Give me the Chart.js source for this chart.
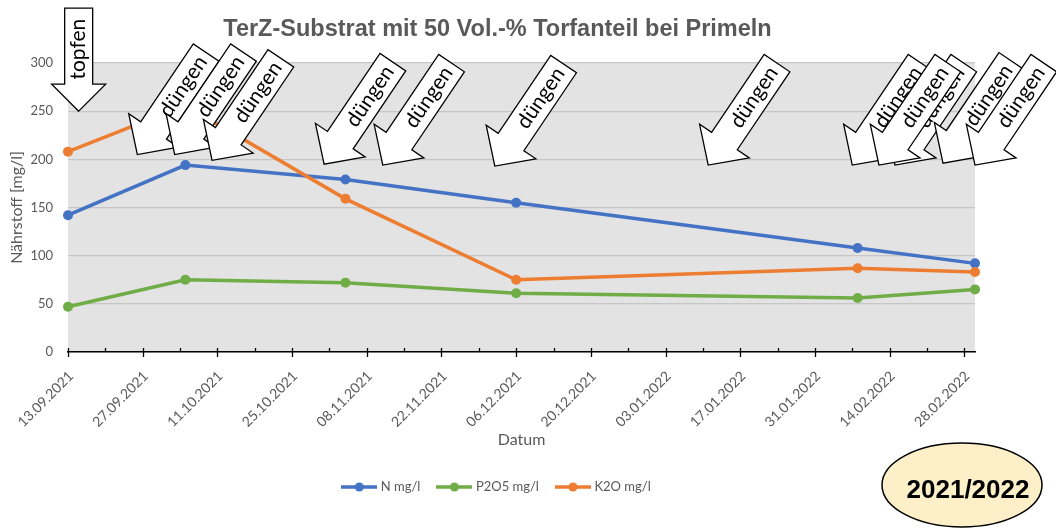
<!DOCTYPE html>
<html>
<head>
<meta charset="utf-8">
<script src="https://cdn.jsdelivr.net/npm/chart.js@4.4.1/dist/chart.umd.min.js"></script>
<style>
  html, body { margin: 0; padding: 0; background: #fff; }
  #wrap { width: 1056px; height: 529px; }
</style>
</head>
<body>
<div id="wrap"><canvas id="chart" width="1056" height="529"></canvas></div>
<script>
// Messtermine und Nährstoffwerte
const dates = ["2021-09-13", "2021-10-05", "2021-11-04", "2021-12-06", "2022-02-08", "2022-03-02"];
const nValues = [142, 194, 179, 155, 108, 92];
const p2o5Values = [47, 75, 72, 61, 56, 65];
const k2oValues = [208, 256, 159, 75, 87, 83];
const seriesNames = ["N mg/l", "P2O5 mg/l", "K2O mg/l"];
const seriesColors = ["#4472C4", "#70AD47", "#ED7D31"];
const yTicks = [0, 50, 100, 150, 200, 250, 300];

// Pfeile: Topfen und Düngetermine (Spitze bei Datum / Wert)
const topfenDate = "2021-09-15";
const topfenLevel = 250;
const duengenDates = ["2021-09-26", "2021-10-03", "2021-10-10", "2021-10-31", "2021-11-11", "2021-12-02",
                      "2022-01-11", "2022-02-07", "2022-02-15", "2022-02-12", "2022-02-24", "2022-03-02"];
const duengenLevels = [205, 205, 199, 195, 194, 193, 194, 194, 194, 194, 196, 194];

const DAY = 86400000;
const toMs = s => Date.parse(s + "T00:00:00Z");
const pad = n => String(n).padStart(2, "0");
const fmtDate = v => {
    const d = new Date(v);
    return pad(d.getUTCDate()) + "." + pad(d.getUTCMonth() + 1) + "." + d.getUTCFullYear();
};
const xMin = toMs(dates[0]);
const xMax = toMs(dates[dates.length - 1]);
const isMajor = v => Math.round((v - xMin) / DAY) % 14 === 0;

const GRAY = "#595959";

// Legendensymbol: Linie mit Punkt
const legendIcons = seriesColors.map(c => {
    const cv = document.createElement("canvas");
    cv.width = 36; cv.height = 12;
    const g = cv.getContext("2d");
    g.strokeStyle = c; g.lineWidth = 3.5;
    g.beginPath(); g.moveTo(0, 6); g.lineTo(36, 6); g.stroke();
    g.fillStyle = c;
    g.beginPath(); g.arc(18, 6, 4.5, 0, Math.PI * 2); g.fill();
    return cv;
});

function makeSeries(values, i) {
    return {
        label: seriesNames[i],
        data: dates.map((d, k) => ({ x: toMs(d), y: values[k] })),
        borderColor: seriesColors[i],
        backgroundColor: seriesColors[i],
        borderWidth: 3.5,
        pointRadius: 5,
        pointHoverRadius: 5,
        pointBorderWidth: 0,
        pointBackgroundColor: seriesColors[i],
        tension: 0,
        clip: false,
        order: 3 - i
    };
}

// Hintergrund der Zeichenfläche
const plotBg = {
    id: "plotBg",
    beforeDraw(chart) {
        const { ctx, chartArea: a } = chart;
        ctx.save();
        ctx.fillStyle = "#e2e3e2";
        ctx.fillRect(a.left, a.top, a.right - a.left, a.bottom - a.top);
        ctx.restore();
    }
};

function drawArrow(ctx, x, y, angle, dim, text) {
    ctx.save();
    ctx.translate(x, y);
    ctx.rotate(angle);
    ctx.beginPath();
    ctx.moveTo(0, 0);
    ctx.lineTo(-dim.headW, -dim.head);
    ctx.lineTo(-dim.shaftW, -dim.head);
    ctx.lineTo(-dim.shaftW, -dim.len);
    ctx.lineTo(dim.shaftW, -dim.len);
    ctx.lineTo(dim.shaftW, -dim.head);
    ctx.lineTo(dim.headW, -dim.head);
    ctx.closePath();
    ctx.fillStyle = "#fff";
    ctx.fill();
    ctx.strokeStyle = "#000";
    ctx.lineWidth = 1.3;
    ctx.stroke();
    ctx.translate(0, -dim.textAt);
    ctx.rotate(-Math.PI / 2);
    ctx.fillStyle = "#000";
    ctx.font = "21px Lato";
    ctx.textAlign = "center";
    ctx.textBaseline = "middle";
    ctx.fillText(text, 0, 0);
    ctx.restore();
}

// Achsenstriche, Pfeile, Jahresoval
const extras = {
    id: "extras",
    afterDraw(chart) {
        const { ctx, chartArea: a, scales: { x, y } } = chart;
        ctx.save();
        ctx.strokeStyle = "#000";
        ctx.lineWidth = 1.3;
        x.ticks.forEach(t => {
            const px = Math.round(x.getPixelForValue(t.value)) + 0.5;
            ctx.beginPath();
            ctx.moveTo(px, a.bottom - 4);
            ctx.lineTo(px, isMajor(t.value) ? a.bottom + 5 : a.bottom);
            ctx.stroke();
        });
        ctx.restore();

        drawArrow(ctx, x.getPixelForValue(toMs(topfenDate)), y.getPixelForValue(topfenLevel), 0,
            { len: 103, head: 27, shaftW: 14, headW: 27, textAt: 62 }, "topfen");
        const rot = 34 * Math.PI / 180;
        duengenDates.forEach((d, i) => {
            drawArrow(ctx, x.getPixelForValue(toMs(d)), y.getPixelForValue(duengenLevels[i]), rot,
                { len: 123, head: 29, shaftW: 15.5, headW: 30, textAt: 82 }, "düngen");
        });

        ctx.save();
        ctx.beginPath();
        ctx.ellipse(962, 485, 80, 42, 0, 0, Math.PI * 2);
        ctx.fillStyle = "#fdf0c8";
        ctx.fill();
        ctx.strokeStyle = "#000";
        ctx.lineWidth = 1.5;
        ctx.stroke();
        ctx.fillStyle = "#000";
        ctx.font = "bold 26px 'Liberation Sans', Arial";
        ctx.textAlign = "center";
        ctx.textBaseline = "middle";
        ctx.fillText("2021/2022", 968, 491);
        ctx.restore();
    }
};

Chart.defaults.font.family = "Lato";

const chart = new Chart(document.getElementById("chart").getContext("2d"), {
    type: "line",
    data: {
        datasets: [makeSeries(nValues, 0), makeSeries(p2o5Values, 1), makeSeries(k2oValues, 2)]
    },
    options: {
        responsive: false,
        animation: false,
        devicePixelRatio: 1,
        layout: { padding: { left: 20, right: 81, top: 0, bottom: 25.5 } },
        plugins: {
            title: {
                display: true,
                text: "TerZ-Substrat mit 50 Vol.-% Torfanteil bei Primeln",
                color: GRAY,
                font: { family: "'Liberation Sans', Arial", size: 23.5, weight: "bold" },
                padding: { top: 15.9, bottom: 18.9 }
            },
            legend: {
                position: "bottom",
                title: { display: true, text: "", font: { size: 10 }, padding: { top: 0, bottom: 0.5 } },
                labels: {
                    usePointStyle: true,
                    pointStyleWidth: 30,
                    padding: 19,
                    color: GRAY,
                    font: { size: 13 },
                    generateLabels: c => Chart.defaults.plugins.legend.labels.generateLabels(c)
                        .sort((p, q) => p.datasetIndex - q.datasetIndex)
                        .map(l => Object.assign(l, { pointStyle: legendIcons[l.datasetIndex] }))
                }
            },
            tooltip: { enabled: false }
        },
        scales: {
            x: {
                type: "linear",
                min: xMin,
                max: xMax,
                afterBuildTicks: s => {
                    const t = [];
                    for (let v = xMin; v <= xMax; v += 7 * DAY) t.push({ value: v });
                    s.ticks = t;
                },
                afterFit: s => { s.height = 97; },
                ticks: {
                    autoSkip: false,
                    minRotation: 45,
                    maxRotation: 45,
                    padding: 16,
                    labelOffset: 3,
                    color: GRAY,
                    font: { size: 14 },
                    callback: v => isMajor(v) ? fmtDate(v) : ""
                },
                grid: { drawOnChartArea: false, drawTicks: false },
                border: { color: "#000", width: 1.5 },
                title: {
                    display: true, text: "Datum", color: GRAY,
                    font: { size: 16 }, padding: { top: 0, bottom: 0 }
                }
            },
            y: {
                min: 0,
                max: 300,
                afterBuildTicks: s => { s.ticks = yTicks.map(v => ({ value: v })); },
                afterFit: s => { s.width = 48; },
                ticks: { padding: 15, color: GRAY, font: { size: 13 } },
                grid: { color: "#c6c6c6", lineWidth: 1.3, drawTicks: false },
                border: { display: false },
                title: {
                    display: true, text: "Nährstoff [mg/l]", color: GRAY,
                    font: { size: 16 }, padding: { top: -12.6, bottom: 0 }
                }
            }
        }
    },
    plugins: [plotBg, extras]
});
</script>
</body>
</html>
